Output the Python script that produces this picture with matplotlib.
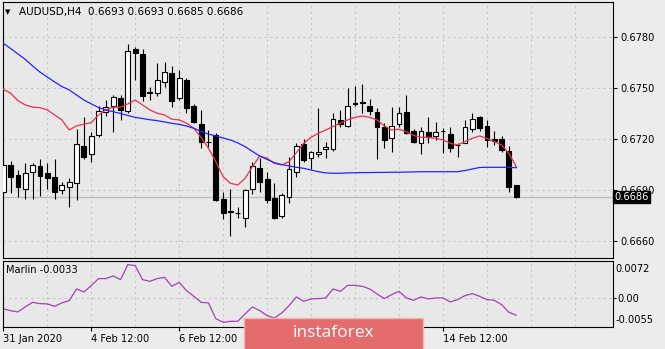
import numpy as np
import matplotlib.pyplot as plt
from matplotlib.patches import Rectangle

# AUDUSD H4 candles (bar 0 = 31 Jan 2020 12:00)
opens = [0.66890, 0.67047, 0.66988, 0.66904, 0.67007, 0.67041, 0.66998, 0.66978, 0.66900, 0.66916,
         0.66939, 0.67158, 0.67111, 0.67223, 0.67360, 0.67393, 0.67438, 0.67366, 0.67726, 0.67698,
         0.67471, 0.67471, 0.67534, 0.67588, 0.67442, 0.67546, 0.67393, 0.67288, 0.67184, 0.67223,
         0.66847, 0.66777, 0.66767, 0.66737, 0.66904, 0.67031, 0.66963, 0.66851, 0.66749, 0.66857,
         0.67007, 0.67170, 0.67090, 0.67109, 0.67139, 0.67139, 0.67311, 0.67276, 0.67409, 0.67418,
         0.67393, 0.67360, 0.67272, 0.67207, 0.67288, 0.67360, 0.67248, 0.67178, 0.67242, 0.67217,
         0.67246, 0.67229, 0.67166, 0.67178, 0.67256, 0.67327, 0.67278, 0.67200, 0.67200, 0.67129,
         0.6693]
highs = [0.67066, 0.67070, 0.67017, 0.67060, 0.67060, 0.67080, 0.67056, 0.67080, 0.66948, 0.66972,
         0.67256, 0.67327, 0.67242, 0.67393, 0.67428, 0.67458, 0.67458, 0.67757, 0.67738, 0.67726,
         0.67506, 0.67643, 0.67653, 0.67628, 0.67605, 0.67556, 0.67405, 0.67370, 0.67252, 0.67235,
         0.66890, 0.66904, 0.66802, 0.66904, 0.67066, 0.67090, 0.67007, 0.66939, 0.66881, 0.67096,
         0.67174, 0.67198, 0.67130, 0.67380, 0.67184, 0.67350, 0.67370, 0.67497, 0.67511, 0.67522,
         0.67433, 0.67380, 0.67292, 0.67386, 0.67386, 0.67458, 0.67256, 0.67272, 0.67327, 0.67301,
         0.67262, 0.67268, 0.67178, 0.67311, 0.67350, 0.67334, 0.67311, 0.67246, 0.67219, 0.67158,
         0.6693]
lows = [0.66841, 0.66881, 0.66860, 0.66847, 0.66845, 0.66866, 0.66904, 0.66845, 0.66875, 0.66798,
        0.66841, 0.67080, 0.67066, 0.67213, 0.67334, 0.67242, 0.67311, 0.67350, 0.67546, 0.67424,
        0.67428, 0.67452, 0.67506, 0.67386, 0.67428, 0.67350, 0.67292, 0.67145, 0.67154, 0.66837,
        0.66728, 0.66630, 0.66737, 0.66684, 0.66876, 0.66890, 0.66822, 0.66728, 0.66734, 0.66822,
        0.66978, 0.67066, 0.67021, 0.67096, 0.67086, 0.67130, 0.67272, 0.67272, 0.67393, 0.67350,
        0.67340, 0.67080, 0.67145, 0.67125, 0.67272, 0.67229, 0.67178, 0.67111, 0.67178, 0.67194,
        0.67116, 0.67125, 0.67096, 0.67174, 0.67242, 0.67248, 0.67154, 0.67164, 0.67125, 0.66887,
        0.6685]
closes = [0.67047, 0.66978, 0.66916, 0.66998, 0.67047, 0.66984, 0.66968, 0.66890, 0.66929, 0.66948,
          0.67168, 0.67096, 0.67217, 0.67366, 0.67386, 0.67448, 0.67370, 0.67718, 0.67706, 0.67452,
          0.67473, 0.67546, 0.67595, 0.67424, 0.67556, 0.67380, 0.67301, 0.67184, 0.67180, 0.66841,
          0.66763, 0.66771, 0.66763, 0.66900, 0.67041, 0.66948, 0.66841, 0.66737, 0.66870, 0.67021,
          0.67158, 0.67076, 0.67125, 0.67125, 0.67151, 0.67315, 0.67286, 0.67393, 0.67405, 0.67409,
          0.67366, 0.67272, 0.67194, 0.67276, 0.67350, 0.67236, 0.67184, 0.67248, 0.67209, 0.67238,
          0.67244, 0.67148, 0.67162, 0.67268, 0.67315, 0.67266, 0.67194, 0.67188, 0.67135, 0.66916,
          0.6686]

# moving averages
ma_fast = [0.67491, 0.67468, 0.67424, 0.67399, 0.67386, 0.67383, 0.67370, 0.67340, 0.67311, 0.67252,
           0.67276, 0.67286, 0.67295, 0.67340, 0.67370, 0.67386, 0.67386, 0.67405, 0.67428, 0.67399,
           0.67370, 0.67350, 0.67340, 0.67315, 0.67311, 0.67292, 0.67262, 0.67208, 0.67145, 0.67066,
           0.66978, 0.66939, 0.66929, 0.66968, 0.67037, 0.67099, 0.67086, 0.67056, 0.67047, 0.67066,
           0.67119, 0.67174, 0.67209, 0.67233, 0.67252, 0.67272, 0.67292, 0.67311, 0.67326, 0.67334,
           0.67326, 0.67311, 0.67276, 0.67252, 0.67256, 0.67242, 0.67220, 0.67209, 0.67209, 0.67203,
           0.67194, 0.67174, 0.67164, 0.67184, 0.67203, 0.67217, 0.67203, 0.67184, 0.67164, 0.67115,
           0.67037]
ma_slow = [0.67761, 0.67730, 0.67698, 0.67666, 0.67628, 0.67592, 0.67563, 0.67534, 0.67507, 0.67487,
           0.67457, 0.67428, 0.67405, 0.67384, 0.67369, 0.67359, 0.67349, 0.67337, 0.67326, 0.67319,
           0.67312, 0.67307, 0.67299, 0.67291, 0.67285, 0.67275, 0.67262, 0.67243, 0.67228, 0.67217,
           0.67205, 0.67193, 0.67176, 0.67154, 0.67126, 0.67099, 0.67079, 0.67060, 0.67049, 0.67041,
           0.67033, 0.67027, 0.67017, 0.67007, 0.67000, 0.66998, 0.66998, 0.67000, 0.67001, 0.67002,
           0.67002, 0.67003, 0.67003, 0.67004, 0.67004, 0.67005, 0.67006, 0.67007, 0.67007, 0.67007,
           0.67007, 0.67007, 0.67007, 0.67014, 0.67023, 0.67032, 0.67033, 0.67033, 0.67033, 0.67032,
           0.67031]

# Marlin oscillator
marlin = [-0.00208, -0.00241, -0.00266, -0.00169, -0.00081, -0.00106, -0.00112, -0.00158, -0.00092, -0.00048,
          0.00177, 0.00119, 0.00241, 0.00375, 0.00375, 0.00427, 0.00356, 0.00645, 0.00625, 0.00356,
          0.00323, 0.00375, 0.00400, 0.00227, 0.00304, 0.00144, 0.00035, -0.00081, -0.00092, -0.00394,
          -0.00466, -0.00446, -0.00446, -0.00304, -0.00169, -0.00241, -0.00337, -0.00381, -0.00285, -0.00144,
          0.00023, -0.00062, -0.00015, -0.00010, 0.00004, 0.00177, 0.00131, 0.00246, 0.00246, 0.00227,
          0.00177, 0.00081, -0.00010, 0.00067, 0.00131, 0.00004, -0.00042, 0.00023, -0.00015, 0.00004,
          0.00004, -0.00073, -0.00029, 0.00048, 0.00087, 0.00035, -0.00029, -0.00042, -0.00125, -0.00273,
          -0.0033]

# time labels visible outside the watermark
tick_bars = [0, 12, 24, 60]
tick_labels = ["31 Jan 2020", "4 Feb 12:00", "6 Feb 12:00", "14 Feb 12:00"]
price_ticks = [0.6660, 0.6690, 0.6720, 0.6750, 0.6780]

plt.rcParams['font.family'] = 'DejaVu Sans'
bg = '#e8e8e8'
grid_c = '#c6c6c6'
fs = 7.1

fig = plt.figure(figsize=(6.65, 3.49), dpi=100)
fig.patch.set_facecolor('#ececec')
ax = fig.add_axes([0.00406, 0.2599, 0.9177, 0.7344])
ax2 = fig.add_axes([0.00406, 0.0639, 0.9177, 0.1891], sharex=ax)

x = np.arange(len(closes))
o = np.array(opens); c = np.array(closes)
for a in (ax, ax2):
    a.set_facecolor(bg)
    for s in a.spines.values():
        s.set_color('black'); s.set_linewidth(0.8)
    for g in range(6, 84, 6):
        a.axvline(g, color=grid_c, lw=0.8, ls=(0, (2, 3)), zorder=0)

for p in price_ticks:
    ax.axhline(p, color=grid_c, lw=0.8, ls=(0, (2, 3)), zorder=0)
ax.axhline(closes[-1], color='#bdbdbd', lw=0.9, zorder=0.5)

# candles
ax.vlines(x, lows, highs, color='black', lw=0.8, zorder=2)
up = c >= o
body_lo = np.minimum(o, c)
body_h = np.abs(c - o)
ax.bar(x[up], body_h[up], bottom=body_lo[up], width=0.66, color='white',
       edgecolor='black', linewidth=0.8, zorder=3)
ax.bar(x[~up], body_h[~up], bottom=body_lo[~up], width=0.66, color='black',
       edgecolor='black', linewidth=0.8, zorder=3)

ax.plot(x, ma_fast, color='#e8304f', lw=0.9, zorder=4)
ax.plot(x, ma_slow, color='#2424ff', lw=0.9, zorder=4)

ax.set_xlim(-0.08, 83.2)
ax.set_ylim(0.66499, 0.68003)
ax.yaxis.tick_right()
ax.set_yticks(price_ticks)
ax.set_yticklabels(["%.4f" % p for p in price_ticks])
ax.tick_params(axis='y', length=3, width=0.8, pad=2, labelsize=fs, colors='black')
ax.tick_params(axis='x', bottom=False, labelbottom=False)

ax.text(1.0025, closes[-1], "%.4f" % closes[-1], transform=ax.get_yaxis_transform(),
        ha='left', va='center', color='white', fontsize=fs, zorder=10,
        bbox=dict(boxstyle='square,pad=0.12', fc='black', ec='black'))

# indicator pane
ax2.axhline(0, color=grid_c, lw=0.8, ls=(0, (2, 3)), zorder=0)
ax2.plot(x, marlin, color='#a640b8', lw=0.9)
ax2.set_ylim(-0.0055, 0.0072)
ax2.yaxis.tick_right()
ax2.set_yticks([0])
ax2.set_yticklabels(["0.00"])
ax2.tick_params(axis='y', length=2, width=0.8, pad=1, labelsize=fs)
ax2.text(1.004, 0.87, "0.0072", transform=ax2.transAxes, ha='left', va='center', fontsize=fs)
ax2.text(1.004, 0.10, "-0.0055", transform=ax2.transAxes, ha='left', va='center', fontsize=fs)
ax2.set_xticks(tick_bars)
ax2.set_xticklabels(tick_labels)
ax2.tick_params(axis='x', length=3, width=0.8, pad=2, labelsize=fs)
for lab in ax2.get_xticklabels():
    lab.set_ha('left')

# header texts
fig.text(5 / 665, 1 - 12 / 349, "\u25bc", fontsize=5, va='center', ha='left')
fig.text(19 / 665, 1 - 12 / 349, "AUDUSD,H4  0.6693 0.6693 0.6685 0.6686",
         fontsize=7.5, va='center', ha='left')
fig.text(6 / 665, 1 - 270 / 349, "Marlin -0.0033", fontsize=fs, va='center', ha='left')

# watermark logo
logo = Rectangle((244 / 665, -0.02), 179 / 665, 0.02 + 1 - 318 / 349, transform=fig.transFigure,
                 facecolor='#e46c6c', edgecolor='#f2b3b3', lw=1, zorder=5)
fig.add_artist(logo)
fig.text(333.5 / 665, 1 - 333 / 349, "instaforex", color='white', fontsize=12.5,
         family='Open Sans', ha='center', va='center', zorder=6)

plt.savefig("out.png", dpi=100, facecolor=fig.get_facecolor())
